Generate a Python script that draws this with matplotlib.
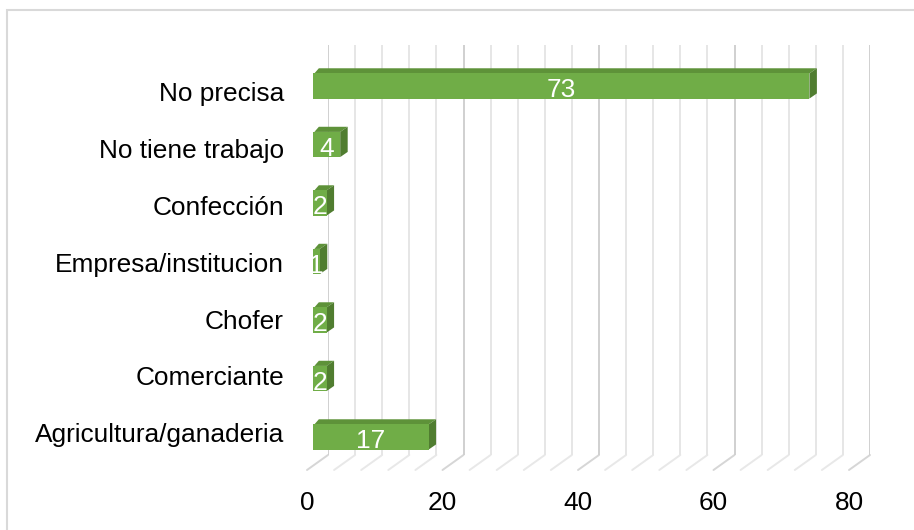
import numpy as np
import matplotlib
matplotlib.use('Agg')
import matplotlib.pyplot as plt
from matplotlib.patches import Rectangle, Polygon, ConnectionPatch

plt.rcParams['font.family'] = ['Liberation Sans', 'DejaVu Sans']

# data (bottom to top, as in the chart)
categories = ['Agricultura/ganaderia', 'Comerciante', 'Chofer', 'Empresa/institucion',
              'Confección', 'No tiene trabajo', 'No precisa']
values = [17, 2, 2, 1, 2, 4, 73]
xticks = [0, 20, 40, 60, 80]

W, H = 914, 530
front_col = '#70AD47'
top_col = '#5E9239'
side_col = '#507D30'
fs = 18.9

fig = plt.figure(figsize=(W / 100, H / 100), dpi=100)

def box(x0, y0, x1, y1):
    # pixel box (y from top) -> figure fraction rect
    return [x0 / W, (H - y1) / H, (x1 - x0) / W, (y1 - y0) / H]

# back wall with gridlines
ax_back = fig.add_axes(box(328, 45, 870, 455))
ax_back.set_xlim(0, 80)
ax_back.set_ylim(0, 1)
ax_back.axis('off')
for g in np.arange(0, 81, 4):
    c = '#D0D0D0' if g % 20 == 0 else '#E6E6E6'
    ax_back.plot([g, g], [0, 1], color=c, lw=1.4, solid_capstyle='butt')

# front floor edge, holds the value axis labels
ax_front = fig.add_axes(box(307, 455, 849, 470))
ax_front.set_xlim(0, 80)
ax_front.set_ylim(0, 1)
ax_front.patch.set_visible(False)
for s in ax_front.spines.values():
    s.set_visible(False)
ax_front.set_yticks([])
ax_front.set_xticks(xticks)
ax_front.set_xticklabels([str(t) for t in xticks], fontsize=fs)
ax_front.tick_params(axis='x', length=0, pad=15)

# floor lines from front edge to back wall
for g in np.arange(0, 81, 4):
    c = '#D6D6D6' if g % 20 == 0 else '#E8E8E8'
    con = ConnectionPatch(xyA=(g, 0), coordsA=ax_front.transData,
                          xyB=(g, 0), coordsB=ax_back.transData,
                          color=c, lw=1.4)
    con.set_clip_on(False)
    ax_back.add_artist(con)

# category labels
ax_lab = fig.add_axes(box(284, 63.6, 290, 460.9))
ax_lab.set_ylim(-0.5, 6.5)
ax_lab.patch.set_visible(False)
for s in ax_lab.spines.values():
    s.set_visible(False)
ax_lab.set_xticks([])
ax_lab.set_yticks(range(len(categories)))
ax_lab.set_yticklabels(categories, fontsize=fs)
ax_lab.tick_params(axis='y', length=0, pad=0)

# 3d-looking bars
ax_bar = fig.add_axes(box(313, 56.75, 857, 466.25))
ax_bar.set_xlim(0, 80)
ax_bar.set_ylim(-0.5, 6.5)
ax_bar.axis('off')
h = 0.215
dx, dy = 1.1, 0.088
for i, v in enumerate(values):
    top = Polygon([(0.2, i + h), (v, i + h), (v + dx, i + h + dy), (0.2 + dx * 0.6, i + h + dy)],
                  closed=True, fc=top_col, ec='none')
    side = Polygon([(v, i - h), (v + dx, i - h + dy), (v + dx, i + h + dy), (v, i + h)],
                   closed=True, fc=side_col, ec='none')
    ax_bar.add_patch(top)
    ax_bar.add_patch(side)
    ax_bar.add_patch(Rectangle((0, i - h), v, 2 * h, fc=front_col, ec='none'))
    ax_bar.text(v / 2, i - 0.19, str(v), color='white', fontsize=fs,
                ha='center', va='baseline')

# chart border
fig.add_artist(Rectangle((7.5 / W, -0.1), 1.2, (H - 10) / H + 0.1,
                         transform=fig.transFigure, fill=False,
                         ec='#D9D9D9', lw=1.5))

fig.savefig('out.png', dpi=100)
